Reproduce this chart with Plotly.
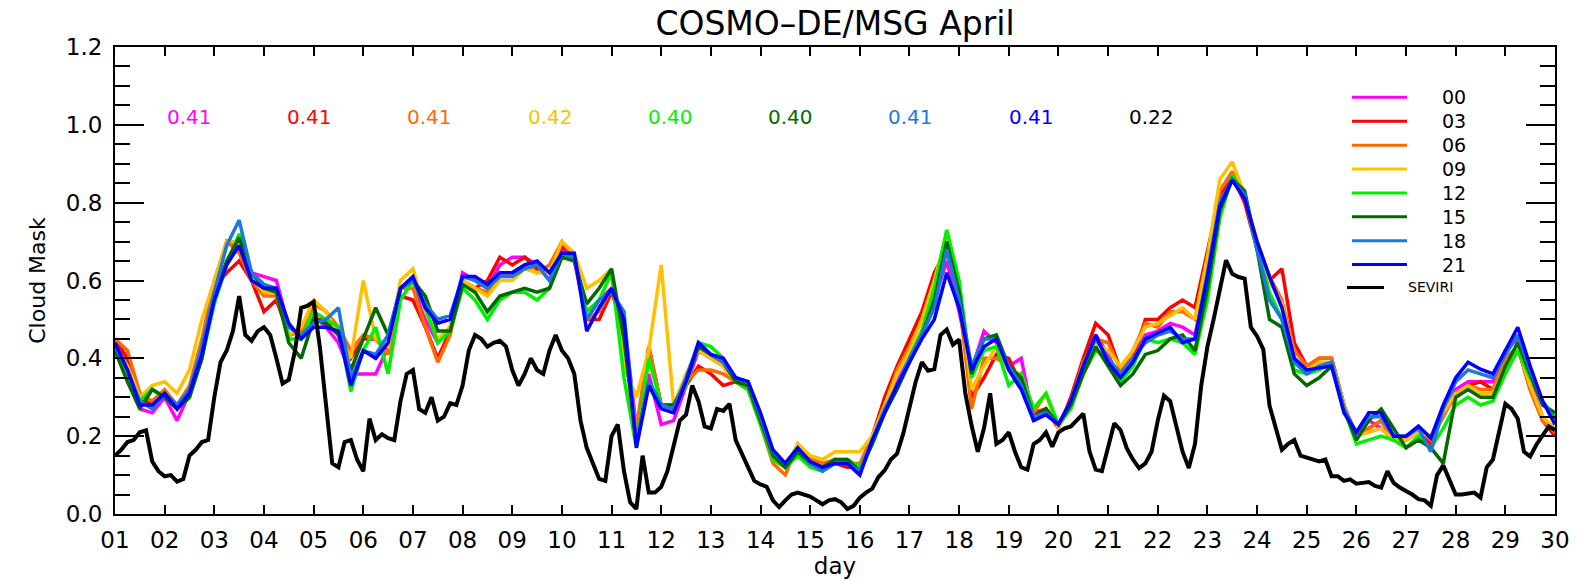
import plotly.graph_objects as go

# ---------------- data ----------------
day_labels = ["%02d" % d for d in range(1, 31)]
y_tick_vals = [0.0, 0.2, 0.4, 0.6, 0.8, 1.0, 1.2]
y_tick_text = ["0.0", "0.2", "0.4", "0.6", "0.8", "1.0", "1.2"]

run_names = ["00", "03", "06", "09", "12", "15", "18", "21"]
run_colors = ["#FF00FF", "#FF0000", "#FF6A00", "#FFC000", "#00F000", "#006A00", "#1C78DC", "#0000FF"]
mean_values = ["0.41", "0.41", "0.41", "0.42", "0.40", "0.40", "0.41", "0.41", "0.22"]

# 6-hourly model series (day 1 00UTC ... day 30 00UTC)
hours_6h = list(range(0, 29 * 24 + 1, 6))
# 3-hourly SEVIRI series
hours_3h = list(range(0, 29 * 24 + 1, 3))

m00 = [.44, .38, .27, .26, .30, .24, .31, .40, .58, .70, .68, .62, .61, .60, .48, .46,
       .51, .48, .44, .36, .36, .36, .43, .58, .60, .50, .44, .48, .62, .60, .58, .64,
       .66, .66, .64, .60, .68, .65, .50, .55, .58, .50, .22, .36, .23, .24, .33, .42,
       .40, .38, .34, .33, .25, .16, .13, .17, .14, .12, .14, .13, .11, .19, .27, .34,
       .40, .47, .55, .65, .52, .37, .47, .44, .38, .40, .24, .27, .23, .29, .39, .46,
       .41, .34, .40, .46, .47, .49, .48, .46, .62, .80, .86, .81, .69, .60, .54, .40,
       .37, .38, .39, .27, .20, .24, .22, .19, .19, .21, .20, .25, .32, .34, .34, .34,
       .42, .45, .34, .25, .21]
r03 = [.45, .40, .30, .28, .31, .27, .32, .44, .58, .62, .65, .60, .52, .55, .46, .47,
       .50, .50, .46, .40, .45, .45, .43, .56, .55, .48, .40, .47, .60, .58, .60, .66,
       .64, .66, .63, .62, .69, .66, .50, .50, .57, .48, .20, .43, .28, .27, .33, .38,
       .36, .33, .34, .32, .24, .14, .12, .17, .14, .13, .13, .12, .12, .20, .30, .38,
       .45, .52, .62, .68, .55, .30, .35, .41, .40, .33, .26, .27, .22, .30, .40, .49,
       .46, .37, .40, .50, .50, .53, .55, .53, .68, .82, .87, .80, .68, .60, .63, .44,
       .38, .40, .40, .28, .20, .22, .24, .19, .19, .22, .18, .26, .30, .33, .34, .32,
       .38, .43, .32, .24, .20]
o06 = [.45, .42, .31, .29, .32, .28, .33, .45, .60, .70, .67, .60, .56, .56, .46, .47,
       .54, .52, .48, .42, .46, .45, .41, .58, .58, .48, .39, .46, .60, .58, .57, .62,
       .62, .64, .62, .64, .70, .66, .50, .52, .58, .45, .22, .43, .28, .27, .34, .37,
       .37, .36, .34, .32, .23, .13, .10, .18, .14, .13, .14, .13, .13, .20, .28, .37,
       .43, .50, .60, .68, .55, .27, .40, .40, .38, .33, .26, .31, .22, .29, .39, .45,
       .44, .37, .42, .49, .48, .52, .52, .50, .66, .83, .88, .81, .70, .61, .55, .42,
       .38, .40, .40, .28, .20, .22, .24, .19, .19, .22, .19, .25, .31, .33, .32, .32,
       .40, .43, .32, .24, .21]
y09 = [.43, .38, .30, .33, .34, .31, .37, .50, .60, .70, .70, .61, .57, .57, .46, .48,
       .55, .52, .46, .40, .60, .45, .43, .60, .63, .52, .45, .48, .60, .58, .56, .60,
       .60, .63, .62, .62, .70, .67, .58, .60, .63, .38, .30, .42, .64, .28, .36, .42,
       .40, .38, .34, .32, .24, .14, .12, .18, .15, .14, .16, .16, .16, .20, .28, .36,
       .42, .50, .60, .72, .58, .32, .38, .43, .37, .36, .27, .31, .22, .28, .38, .44,
       .42, .38, .42, .48, .49, .51, .53, .50, .66, .86, .905, .82, .70, .60, .54, .40,
       .37, .39, .39, .28, .20, .21, .22, .19, .19, .21, .20, .26, .31, .33, .31, .31,
       .38, .43, .33, .25, .22]
g12 = [.42, .35, .29, .32, .30, .27, .30, .40, .54, .64, .72, .62, .58, .58, .45, .45,
       .52, .50, .48, .315, .42, .48, .36, .55, .60, .53, .44, .47, .58, .55, .50, .55,
       .57, .57, .55, .58, .66, .66, .52, .55, .62, .35, .17, .40, .28, .28, .33, .44,
       .43, .40, .34, .32, .23, .14, .12, .15, .12, .11, .14, .14, .12, .18, .26, .33,
       .40, .47, .58, .73, .60, .35, .42, .43, .33, .36, .27, .31, .23, .27, .36, .42,
       .40, .34, .38, .45, .44, .45, .44, .41, .55, .76, .87, .82, .68, .57, .50, .37,
       .36, .37, .39, .27, .18, .19, .20, .19, .17, .20, .17, .22, .28, .30, .28, .29,
       .36, .42, .35, .29, .25]
dg15 = [.42, .34, .27, .32, .30, .27, .30, .40, .56, .65, .71, .62, .58, .57, .44, .40,
        .50, .49, .46, .37, .45, .53, .46, .58, .60, .56, .47, .47, .59, .57, .52, .56,
        .57, .58, .57, .58, .66, .65, .54, .58, .63, .45, .18, .34, .28, .28, .34, .43,
        .41, .39, .34, .33, .24, .15, .12, .16, .13, .12, .14, .14, .11, .18, .26, .32,
        .39, .46, .55, .70, .57, .36, .45, .46, .38, .35, .25, .27, .23, .28, .36, .43,
        .38, .33, .36, .41, .42, .45, .46, .42, .58, .78, .86, .83, .68, .50, .48, .36,
        .33, .35, .38, .27, .19, .24, .27, .22, .17, .19, .17, .13, .30, .32, .30, .30,
        .38, .44, .36, .28, .26]
s18 = [.43, .37, .29, .27, .31, .28, .32, .43, .57, .69, .755, .62, .59, .58, .48, .46,
       .49, .50, .53, .35, .42, .41, .46, .58, .60, .54, .50, .51, .61, .60, .58, .61,
       .61, .63, .64, .60, .67, .66, .50, .55, .57, .52, .18, .34, .28, .27, .35, .44,
       .41, .39, .35, .34, .25, .16, .13, .17, .13, .11, .13, .13, .11, .19, .27, .33,
       .40, .46, .53, .68, .55, .38, .45, .45, .38, .33, .25, .26, .23, .29, .38, .45,
       .40, .36, .40, .44, .46, .47, .45, .45, .62, .80, .86, .82, .68, .55, .50, .39,
       .36, .38, .39, .27, .21, .25, .25, .20, .20, .22, .16, .27, .34, .37, .36, .35,
       .41, .46, .37, .29, .24]
b21 = [.44, .37, .28, .28, .31, .27, .31, .41, .55, .64, .69, .60, .58, .58, .49, .45,
       .48, .48, .47, .33, .42, .40, .44, .58, .61, .53, .49, .50, .61, .61, .59, .62,
       .62, .64, .65, .62, .67, .67, .47, .53, .58, .50, .17, .33, .27, .26, .34, .44,
       .41, .40, .35, .34, .26, .165, .13, .17, .135, .12, .13, .13, .10, .19, .26, .33,
       .39, .45, .50, .62, .53, .37, .43, .45, .37, .32, .24, .255, .23, .29, .38, .46,
       .39, .35, .39, .45, .465, .48, .44, .45, .61, .79, .858, .81, .70, .61, .53, .40,
       .37, .375, .38, .26, .21, .26, .26, .20, .20, .226, .195, .28, .35, .39, .372, .36,
       .42, .48, .38, .29, .23]

seviri = [
    .150, .165, .185, .190, .210, .215, .135, .110,   # 01
    .097, .100, .083, .090, .150, .165, .185, .190,   # 02
    .300, .390, .420, .470, .560, .460, .445, .470,   # 03
    .480, .460, .400, .335, .345, .420, .530, .535,   # 04
    .545, .430, .280, .130, .120, .185, .190, .140,   # 05
    .110, .245, .190, .205, .195, .190, .290, .360,   # 06
    .370, .270, .260, .300, .240, .250, .285, .280,   # 07
    .330, .420, .460, .450, .430, .440, .445, .430,   # 08
    .370, .330, .360, .400, .370, .360, .420, .460,   # 09
    .420, .400, .360, .240, .170, .130, .090, .085,   # 10
    .200, .230, .110, .030, .013, .150, .055, .055,   # 11
    .070, .110, .180, .240, .255, .330, .290, .225,   # 12
    .220, .270, .265, .283, .190, .155, .120, .085,   # 13
    .076, .070, .035, .018, .035, .050, .055, .050,   # 14
    .045, .035, .025, .035, .038, .030, .013, .021,   # 15
    .042, .055, .065, .095, .112, .140, .155, .207,   # 16
    .270, .340, .390, .368, .372, .460, .474, .435,   # 17
    .448, .310, .228, .160, .220, .310, .180, .190,   # 18
    .210, .160, .120, .114, .180, .190, .210, .173,   # 19
    .210, .220, .225, .240, .258, .161, .114, .110,   # 20
    .170, .233, .216, .169, .140, .118, .130, .160,   # 21
    .240, .304, .290, .230, .160, .118, .180, .330,   # 22
    .430, .500, .580, .652, .617, .609, .605, .480,   # 23
    .457, .423, .279, .220, .165, .180, .190, .150,   # 24
    .145, .140, .135, .140, .097, .097, .085, .089,   # 25
    .078, .080, .082, .072, .068, .110, .080, .068,   # 26
    .060, .050, .038, .035, .021, .100, .125, .090,   # 27
    .050, .050, .052, .055, .042, .120, .140, .216,   # 28
    .283, .270, .245, .160, .148, .178, .200, .225,   # 29
    .216,                                             # 30
]

model_series = [m00, r03, o06, y09, g12, dg15, s18, b21]

# ---------------- figure ----------------
FONT = "DejaVu Sans"
W, H = 1590, 581
L, R, T, B = 115, 35, 47, 61
PW, PH = W - L - R, H - T - B

fig = go.Figure()
x6 = [1 + h / 24 for h in hours_6h]
x3 = [1 + h / 24 for h in hours_3h]
for name, col, vals in zip(run_names, run_colors, model_series):
    fig.add_trace(go.Scatter(x=x6, y=vals, mode="lines", name=name,
                             line=dict(color=col, width=3.5), showlegend=False))
fig.add_trace(go.Scatter(x=x3, y=seviri, mode="lines", name="SEVIRI",
                         line=dict(color="black", width=4), showlegend=False))

annotations = []
# mean values row
for i, (txt, col) in enumerate(zip(mean_values, run_colors + ["black"])):
    annotations.append(dict(x=2 + 2.4225 * i, y=1.02, xref="x", yref="y", text=txt,
                            showarrow=False, xanchor="left", yanchor="middle",
                            font=dict(family=FONT, size=20, color=col)))

# hand-drawn legend
def px_x(px):
    return (px - L) / PW

def px_y(py):
    return (H - B - py) / PH

shapes = []
row_y = [98 + 24.2 * i for i in range(8)]
for name, col, ry in zip(run_names, run_colors, row_y):
    shapes.append(dict(type="line", xref="paper", yref="paper",
                       x0=px_x(1352), x1=px_x(1407), y0=px_y(ry), y1=px_y(ry),
                       line=dict(color=col, width=3)))
    annotations.append(dict(x=px_x(1440), y=px_y(ry), xref="paper", yref="paper",
                            text=name, showarrow=False, xanchor="left", yanchor="middle",
                            font=dict(family=FONT, size=19, color="black")))
shapes.append(dict(type="line", xref="paper", yref="paper",
                   x0=px_x(1347), x1=px_x(1384), y0=px_y(290.5), y1=px_y(290.5),
                   line=dict(color="black", width=3)))
annotations.append(dict(x=px_x(1406), y=px_y(290.5), xref="paper", yref="paper",
                        text="SEVIRI", showarrow=False, xanchor="left", yanchor="middle",
                        font=dict(family=FONT, size=14, color="black")))

fig.update_layout(
    width=W, height=H,
    margin=dict(l=L, r=R, t=T, b=B, pad=0),
    paper_bgcolor="white", plot_bgcolor="white",
    font=dict(family=FONT, color="black"),
    title=dict(text="COSMO–DE/MSG April", x=(L + PW / 2) / W, xanchor="center",
               y=1 - 23 / H, yanchor="middle", font=dict(family=FONT, size=33, color="black")),
    annotations=annotations,
    shapes=shapes,
    xaxis=dict(range=[1, 30], tickmode="array", tickvals=list(range(1, 31)), ticktext=day_labels,
               ticks="inside", ticklen=9, tickwidth=2, tickcolor="black",
               showline=True, linecolor="black", linewidth=2, mirror="ticks",
               showgrid=False, zeroline=False,
               tickfont=dict(family=FONT, size=23, color="black"), ticklabelstandoff=4,
               title=dict(text="day", font=dict(family=FONT, size=23, color="black"), standoff=0)),
    yaxis=dict(range=[0, 1.2], tickmode="array", tickvals=y_tick_vals, ticktext=y_tick_text,
               ticks="inside", ticklen=29, tickwidth=2, tickcolor="black",
               minor=dict(dtick=0.05, ticks="inside", ticklen=15, tickwidth=2, tickcolor="black"),
               showline=True, linecolor="black", linewidth=2, mirror="ticks",
               showgrid=False, zeroline=False,
               tickfont=dict(family=FONT, size=23, color="black"), ticklabelstandoff=6,
               title=dict(text="Cloud Mask", font=dict(family=FONT, size=22, color="black"), standoff=14)),
)

fig.write_html("out.html")
